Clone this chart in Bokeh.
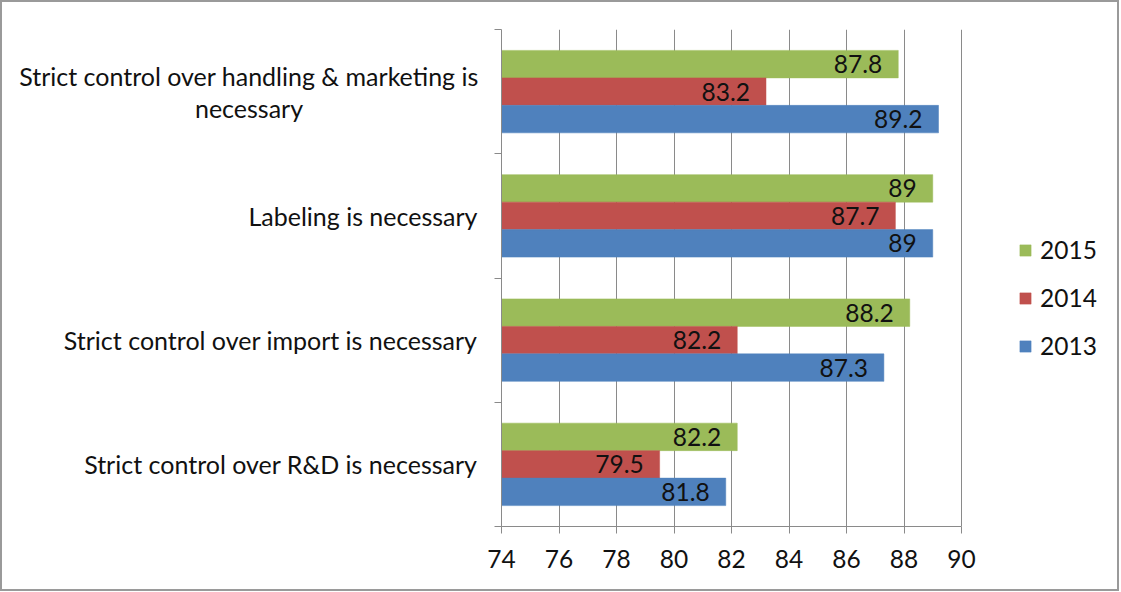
from bokeh.plotting import figure
from bokeh.layouts import row
from bokeh.models import ColumnDataSource, Range1d, FixedTicker, Legend, LegendItem
from bokeh.core.properties import value
from bokeh.embed import file_html
from bokeh.resources import INLINE

categories = [
    "Strict control over R&D is necessary",
    "Strict control over import is necessary",
    "Labeling is necessary",
    "Strict control over handling & marketing is\nnecessary",
]
years = ["2015", "2014", "2013"]
v2015 = [82.2, 88.2, 89.0, 87.8]
v2014 = [79.5, 82.2, 87.7, 83.2]
v2013 = [81.8, 87.3, 89.0, 89.2]
x_ticks = [74, 76, 78, 80, 82, 84, 86, 88, 90]

colors = {"2015": "#9BBB59", "2014": "#C0504D", "2013": "#4F81BD"}
FONT = "Lato"
FS_NUM = "24.5px"
FS_CAT = "25px"
GRID = "#8a8a8a"
TXT = "#111111"

H = 587
TOP, BOTTOM = 27, 63
LEFT_W = 479          # width of the label panel
AXIS_PAD = 20         # room for the y-axis ticks
RIGHT_W = 1115 - LEFT_W
FRAME_W = RIGHT_W - AXIS_PAD
PX_PER_UNIT = 460 / 16.0
x_lo, x_hi = x_ticks[0], x_ticks[-1]
x_end = x_lo + FRAME_W / PX_PER_UNIT

y_range = Range1d(0, len(categories))

# ---- left panel: category labels ----
lp = figure(width=LEFT_W, height=H, output_backend="svg", toolbar_location=None,
            x_range=Range1d(0, LEFT_W), y_range=y_range,
            x_axis_type=None, y_axis_type=None,
            min_border_left=0, min_border_right=0, min_border_top=TOP, min_border_bottom=BOTTOM)
lp.outline_line_color = None
lp.xgrid.visible = False
lp.ygrid.visible = False
single = [(i, c) for i, c in enumerate(categories) if "\n" not in c]
multi = [(i, c) for i, c in enumerate(categories) if "\n" in c]
lp.text(x=[LEFT_W - 4] * len(single), y=[i + 0.5 for i, _ in single], text=[c for _, c in single],
        text_align="right", text_baseline="middle", text_font=value(FONT),
        text_font_size=FS_CAT, text_color=TXT)
lp.text(x=[246.5] * len(multi), y=[i + 0.5 for i, _ in multi], text=[c for _, c in multi],
        text_align="center", text_baseline="middle", text_font=value(FONT),
        text_font_size=FS_CAT, text_color=TXT, text_line_height=1.07)

# ---- right panel: the bar chart ----
p = figure(width=RIGHT_W, height=H, output_backend="svg", toolbar_location=None,
           x_range=Range1d(x_lo, x_end), y_range=y_range,
           min_border_left=AXIS_PAD, min_border_right=0, min_border_top=TOP, min_border_bottom=BOTTOM)
p.outline_line_color = None

bar_h = 0.2213
offsets = {"2015": bar_h, "2014": 0.0, "2013": -bar_h}
series = {"2015": v2015, "2014": v2014, "2013": v2013}

renderers = {}
for yr in years:
    vals = series[yr]
    src = ColumnDataSource(dict(
        y=[i + 0.5 + offsets[yr] for i in range(len(categories))],
        right=vals,
        lbl=[("%g" % v) for v in vals],
    ))
    r = p.hbar(y="y", left=x_lo, right="right", height=bar_h, source=src,
               fill_color=colors[yr], line_color=colors[yr], line_width=0.5)
    renderers[yr] = r
    p.text(x="right", y="y", text="lbl", source=src, x_offset=-16,
           text_align="right", text_baseline="middle",
           text_font=value(FONT), text_font_size=FS_NUM, text_color=TXT)

xa = p.xaxis[0]
xa.ticker = FixedTicker(ticks=x_ticks)
xa.bounds = (x_lo, x_hi)
xa.axis_line_color = GRID
xa.major_tick_line_color = GRID
xa.major_tick_out = 7
xa.major_tick_in = 0
xa.minor_tick_line_color = None
xa.major_label_text_font = FONT
xa.major_label_text_font_size = FS_NUM
xa.major_label_text_color = TXT
xa.major_label_standoff = 16

ya = p.yaxis[0]
ya.ticker = FixedTicker(ticks=[], minor_ticks=list(range(len(categories) + 1)))
ya.axis_line_color = GRID
ya.major_tick_line_color = None
ya.major_tick_out = 0
ya.major_tick_in = 0
ya.major_label_standoff = 0
ya.minor_tick_line_color = GRID
ya.minor_tick_out = 7
ya.minor_tick_in = 0

p.xgrid.ticker = FixedTicker(ticks=x_ticks)
p.xgrid.grid_line_color = GRID
p.ygrid.grid_line_color = None

legend = Legend(items=[LegendItem(label=yr, renderers=[renderers[yr]]) for yr in years],
                location=(517, 166), orientation="vertical",
                label_text_font=FONT, label_text_font_size=FS_NUM, label_text_color=TXT,
                glyph_width=14, glyph_height=14, label_standoff=8,
                spacing=19, padding=0, margin=0, border_line_color=None,
                background_fill_alpha=0)
p.add_layout(legend, "center")

layout = row(lp, p, spacing=0, styles={"border": "2px solid #9a9a9a", "background": "white"})

open("out.html", "w").write(file_html(layout, INLINE))
